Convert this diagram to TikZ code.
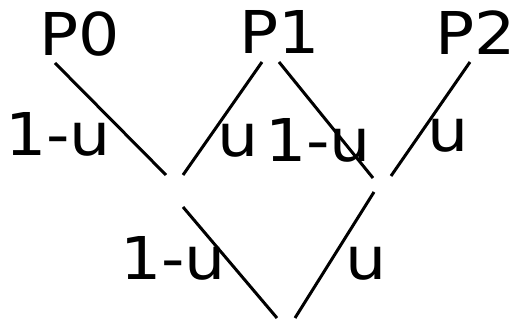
\documentclass[tikz,border=0pt]{standalone}
\usepackage{fontspec}
\setmainfont[FakeStretch=1.1]{DejaVu Sans}
\tikzset{
  every picture/.style={line cap=butt},
  lbl/.style={inner sep=0pt, font=\fontsize{59}{59}\selectfont},
  edge/.style={line width=3pt},
}
\begin{document}
\begin{tikzpicture}[x=1pt, y=-1pt]
  \useasboundingbox (0,0) rectangle (517,320);
  % ---------------- control points
  \node[lbl] (P0) at (80,34) {P0};
  \node[lbl] (P1) at (280,32) {P1};
  \node[lbl] (P2) at (476,33) {P2};
  % ---------------- line ends
  \coordinate (p0s) at (55,63);
  \coordinate (p1l) at (262,62);
  \coordinate (p1r) at (279,62);
  \coordinate (p2s) at (470,62);
  \coordinate (q0a) at (166,175);
  \coordinate (q0b) at (183,175);
  \coordinate (q1a) at (373,178);
  \coordinate (q1b) at (391,176);
  \coordinate (q0c) at (183,207);
  \coordinate (q1c) at (374,192);
  \coordinate (r0a) at (277,318);
  \coordinate (r0b) at (295,318);
  % first level
  \draw[edge] (p0s) -- (q0a);
  \draw[edge] (p1l) -- (q0b);
  \draw[edge] (p1r) -- (q1a);
  \draw[edge] (p2s) -- (q1b);
  % second level
  \draw[edge] (q0c) -- (r0a);
  \draw[edge] (q1c) -- (r0b);
  % ---------------- weights
  \node[lbl] (w00) at (58,134) {1-u};
  \node[lbl] (w01) at (238,140) {u};
  \node[lbl] (w10) at (318,140) {1-u};
  \node[lbl] (w11) at (448,135) {u};
  \node[lbl] (w20) at (173,258) {1-u};
  \node[lbl] (w21) at (366,263) {u};
\end{tikzpicture}
\end{document}
